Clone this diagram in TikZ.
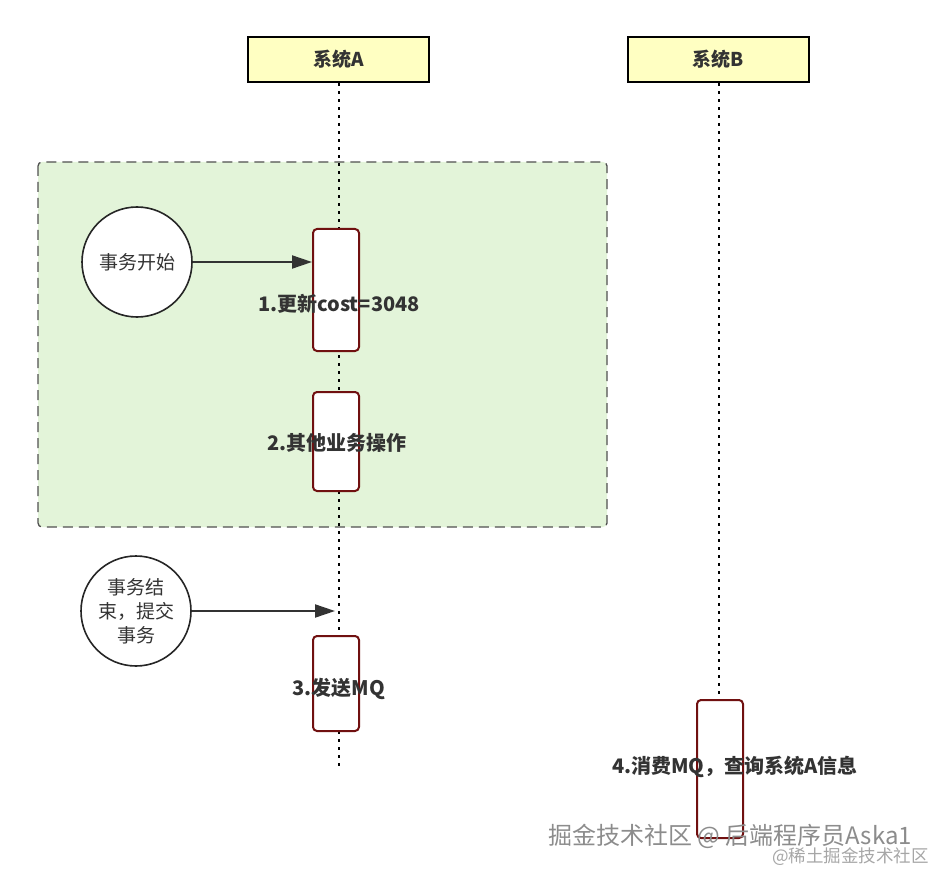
\documentclass[tikz,border=0pt]{standalone}
\usepackage{fontspec}
\setmainfont{Noto Sans CJK SC}
\usetikzlibrary{arrows.meta}
\definecolor{sysfill}{HTML}{FFFFC2}
\definecolor{grpfill}{HTML}{E3F4D9}
\definecolor{grpline}{HTML}{505050}
\definecolor{actline}{HTML}{701010}
\definecolor{txt}{HTML}{333333}
\tikzset{
  sysbox/.style={draw=black, line width=2.5pt, fill=sysfill, minimum width=181pt, minimum height=45pt, inner sep=0pt, font=\fontsize{19}{22}\selectfont\bfseries, text=txt},
  lifeline/.style={line width=2.6pt, dash pattern=on 3pt off 5pt, black},
  actbox/.style={draw=actline, line width=2pt, fill=white, rounded corners=4pt, minimum width=46pt, inner sep=0pt},
  actlabel/.style={font=\fontsize{20}{23}\selectfont\bfseries, text=txt, inner sep=0pt},
  evcircle/.style={draw=black!85, line width=1.6pt, fill=white, circle, minimum size=110pt, inner sep=0pt, align=center, font=\fontsize{19}{24}\selectfont, text=txt},
  msg/.style={draw=txt, line width=2pt, -{Triangle[length=20pt,width=13pt]}},
  wm/.style={text=black!45, inner sep=0pt}
}
\begin{document}
\begin{tikzpicture}[x=1pt,y=-1pt]
\useasboundingbox (0,0) rectangle (936,874);
% group region
\draw[grpline, fill=grpfill, line width=1.3pt, dash pattern=on 10pt off 6pt, rounded corners=4pt] (38,162) rectangle (607,527);
% system boxes
\node[sysbox] (sa) at (338.5,59.5) {系统A};
\node[sysbox] (sb) at (718.5,59.5) {系统B};
\coordinate (aend) at (339,770);
\coordinate (bend) at (719,700);
\draw[lifeline] (sa.south -| 339,0) -- (aend);
\draw[lifeline] (sb.south -| 719,0) -- (bend);
% activation boxes
\node[actbox, minimum height=122pt] (b1) at (336,290) {};
\node[actbox, minimum height=99pt] (b2) at (336,441.5) {};
\node[actbox, minimum height=95pt] (b3) at (336,683.5) {};
\node[actbox, minimum height=138pt] (b4) at (720,769) {};
\node[actlabel] (l1) at (339,304) {1.更新cost=3048};
\node[actlabel] (l2) at (337,443) {2.其他业务操作};
\node[actlabel] (l3) at (339,689) {3.发送MQ};
\node[actlabel] (l4) at (735,767) {4.消费MQ，查询系统A信息};
% events
\node[evcircle] (c1) at (137,262) {事务开始};
\node[evcircle] (c2) at (136,611) {事务结\\束，提交\\事务};
\coordinate (t1) at (312,262);
\coordinate (t2) at (335,611);
\draw[msg] (c1.east) -- (t1);
\draw[msg] (c2.east) -- (t2);
% watermark
\node[wm, anchor=west, font=\fontsize{24}{26}\selectfont] (w1) at (548,836) {掘金技术社区 @ 后端程序员Aska1};
\node[wm, anchor=east, text=black!35, font=\fontsize{17.5}{19}\selectfont] (w2) at (929,857) {@稀土掘金技术社区};
\end{tikzpicture}
\end{document}
